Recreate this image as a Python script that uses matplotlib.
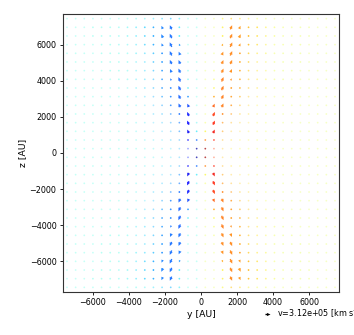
import numpy as np
import matplotlib
matplotlib.use("Agg")
import matplotlib.pyplot as plt
from matplotlib import cm

# grid cell centres of one quadrant [AU]
cell_centres = [240, 720, 1200, 1680, 2160, 2640, 3120, 3600,
                4080, 4560, 5040, 5520, 6000, 6480, 6960, 7440]

# speed in 1e4 km/s, upper-right quadrant, rows from z=7440 (top) down to z=240
speed_q = [
    [1, 1, 4, 5, 4, 3, 2, 2, 1, 1, 1, 1, 1, 1, 1, 1],
    [1, 1, 6, 28, 20, 9, 7, 4, 3, 2, 2, 2, 2, 1, 1, 1],
    [1, 1, 7, 30, 24, 10, 7, 4, 3, 2, 2, 2, 2, 1, 1, 1],
    [1, 1, 14, 31, 18, 9, 6, 3, 2, 2, 2, 2, 1, 1, 1, 1],
    [1, 1, 22, 30, 12, 7, 4, 3, 2, 2, 2, 2, 1, 1, 1, 1],
    [1, 1, 26, 28, 10, 6, 3, 2, 2, 2, 2, 2, 1, 1, 1, 1],
    [1, 2, 28, 22, 9, 5, 3, 2, 2, 2, 2, 1, 1, 1, 1, 1],
    [1, 3, 30, 14, 8, 4, 3, 2, 2, 2, 1, 1, 1, 1, 1, 1],
    [1, 5, 30, 10, 8, 4, 3, 2, 1, 1, 1, 1, 1, 1, 1, 1],
    [1, 9, 28, 9, 6, 3, 2, 1, 1, 1, 1, 1, 1, 1, 1, 1],
    [1, 22, 26, 8, 4, 2, 1, 1, 1, 1, 1, 1, 1, 1, 1, 1],
    [1, 28, 12, 5, 3, 2, 1, 1, 1, 1, 1, 1, 1, 1, 1, 1],
    [2, 28, 6, 3, 2, 1, 1, 1, 1, 1, 1, 1, 1, 1, 1, 1],
    [6, 24, 5, 2, 1, 1, 1, 1, 1, 1, 1, 1, 1, 1, 1, 1],
    [8, 8, 3, 2, 1, 1, 1, 1, 1, 1, 1, 1, 1, 1, 1, 1],
    [8, 3, 2, 1, 1, 1, 1, 1, 1, 1, 1, 1, 1, 1, 1, 1],
]

# colour value (jet) of the right-hand side, same layout; left side is 1 - value
colour_q = [
    [.62, .62, .65, .70, .68, .66, .64, .63, .62, .62, .62, .62, .62, .62, .62, .62],
    [.62, .62, .66, .78, .76, .72, .68, .66, .64, .63, .62, .62, .62, .62, .62, .62],
    [.62, .62, .66, .78, .76, .72, .68, .66, .64, .63, .62, .62, .62, .62, .62, .62],
    [.62, .62, .74, .78, .76, .72, .68, .66, .64, .63, .62, .62, .62, .62, .62, .62],
    [.62, .62, .77, .78, .75, .70, .67, .65, .63, .62, .62, .62, .62, .62, .62, .62],
    [.62, .62, .78, .78, .74, .70, .67, .65, .63, .62, .62, .62, .62, .62, .62, .62],
    [.62, .63, .78, .77, .74, .70, .67, .65, .63, .62, .62, .62, .62, .62, .62, .62],
    [.62, .64, .79, .77, .74, .70, .67, .65, .63, .62, .62, .62, .62, .62, .62, .62],
    [.62, .65, .79, .76, .74, .70, .67, .65, .63, .62, .62, .62, .62, .62, .62, .62],
    [.62, .74, .79, .76, .73, .70, .67, .65, .63, .62, .62, .62, .62, .62, .62, .62],
    [.62, .82, .79, .76, .72, .69, .66, .64, .63, .62, .62, .62, .62, .62, .62, .62],
    [.63, .86, .78, .75, .70, .68, .66, .64, .63, .62, .62, .62, .62, .62, .62, .62],
    [.64, .88, .76, .72, .69, .67, .65, .64, .63, .62, .62, .62, .62, .62, .62, .62],
    [.65, .90, .74, .70, .68, .66, .65, .64, .63, .62, .62, .62, .62, .62, .62, .62],
    [.78, .88, .72, .68, .66, .65, .64, .63, .62, .62, .62, .62, .62, .62, .62, .62],
    [.97, .85, .70, .66, .65, .64, .63, .62, .62, .62, .62, .62, .62, .62, .62, .62],
]

flow_angle_deg = 66          # outflow direction from the disc plane
key_speed = 3.12e5           # km/s
tick_values = [-6000, -4000, -2000, 0, 2000, 4000, 6000]
axis_limit = 7680

# ---- assemble full grid by mirror symmetry ----
c = np.array(cell_centres, float)
ycoords = np.concatenate([-c[::-1], c])
zcoords = np.concatenate([-c[::-1], c])
Y, Z = np.meshgrid(ycoords, zcoords)

sq = np.array(speed_q, float)[::-1] * 1e4      # rows now z=240..7440
cq = np.array(colour_q, float)[::-1]
sp_upper = np.hstack([sq[:, ::-1], sq])
col_upper = np.hstack([1 - cq[:, ::-1], cq])
speed = np.vstack([sp_upper[::-1], sp_upper])
colval = np.vstack([col_upper[::-1], col_upper])

ang = np.deg2rad(flow_angle_deg)
U = speed * np.cos(ang) * np.sign(Y)
V = speed * np.sin(ang) * np.sign(Z)

rgba = cm.jet(colval.ravel())
alpha = np.clip(0.18 + speed.ravel() / 1.5e5, 0, 0.85)
rgba[:, 3] = alpha

fig = plt.figure(figsize=(3.54, 3.35), dpi=100)
ax = fig.add_axes([0.177, 0.1293, 0.7815, 0.828])
Q = ax.quiver(Y.ravel(), Z.ravel(), U.ravel(), V.ravel(), color=rgba,
              angles='xy', scale_units='xy', scale=1120, pivot='mid',
              width=0.005, headwidth=2.4, headlength=2.6, headaxislength=2.4,
              minlength=1.4)
ax.set_xlim(-axis_limit, axis_limit)
ax.set_ylim(-axis_limit, axis_limit)
ax.set_xticks(tick_values)
ax.set_yticks(tick_values)
ax.tick_params(labelsize=5.8, length=2.5, width=0.6, pad=2)
ax.set_xlabel("y [AU]", fontsize=6.7, labelpad=2)
ax.set_ylabel("z [AU]", fontsize=6.7, labelpad=2)
for s in ax.spines.values():
    s.set_linewidth(0.8)
    s.set_color("#333333")

ax.quiverkey(Q, 0.763, 0.063, key_speed, r"v=3.12e+05 [km s$^{-1}$]",
             labelpos='E', coordinates='figure', color='black',
             labelsep=0.07, fontproperties={'size': 5.8})

fig.savefig("out.png", dpi=100)
